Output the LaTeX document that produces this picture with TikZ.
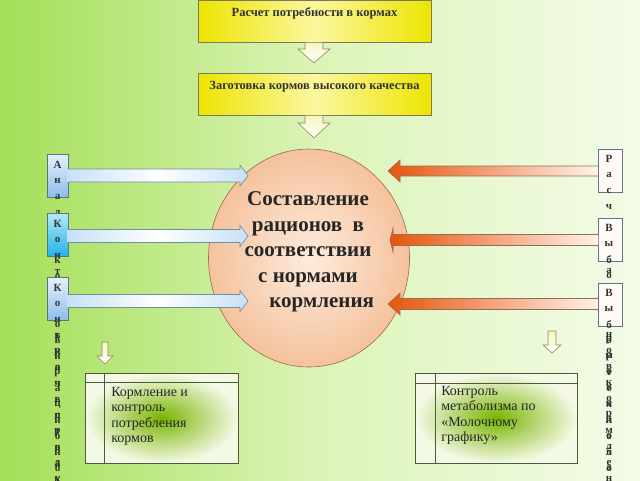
\documentclass[tikz,border=0pt]{standalone}
\usepackage{fontspec}
\setmainfont{Liberation Serif}
\usepackage{tikz}
\usetikzlibrary{calc, positioning, shapes}
\definecolor{bg left}{HTML}{A4DF58}
\definecolor{bg mid}{HTML}{DCF4B8}
\definecolor{bg right}{HTML}{F4FBE8}
\definecolor{yellow deep}{HTML}{EDE400}
\definecolor{yellow light}{HTML}{FBF7A0}
\definecolor{box edge}{HTML}{7A7A5A}
\definecolor{peach in}{HTML}{FDEBDD}
\definecolor{peach out}{HTML}{F5C29C}
\definecolor{oval edge}{HTML}{9A6A4A}
\definecolor{side light}{HTML}{E6F0FA}
\definecolor{side blue}{HTML}{8DBDEA}
\definecolor{side cyan light}{HTML}{B4E8FA}
\definecolor{side cyan}{HTML}{22B2E8}
\definecolor{side edge}{HTML}{5F7585}
\definecolor{blue pale}{HTML}{C8E1F5}
\definecolor{blue edge}{HTML}{6E8FA5}
\definecolor{orange deep}{HTML}{E4560E}
\definecolor{orange pale}{HTML}{FFF3EC}
\definecolor{orange edge}{HTML}{9C6A50}
\definecolor{hollow fill}{HTML}{F6F6C0}
\definecolor{hollow edge}{HTML}{8A8A55}
\definecolor{result green}{HTML}{78B400}
\definecolor{result pale}{HTML}{F4F9E6}
\definecolor{result edge}{HTML}{4A5A3A}
\definecolor{letter grey}{HTML}{333333}

% hollow arrow pointing down: from, tip, half shaft, half head, head length
\newcommand\vblock[5]{\path[hollow] let \p1=(#1), \p2=(#2) in
  ({\x2-#3pt},\y1) -- ({\x2-#3pt},{\y2+#5pt}) -- ({\x2-#4pt},{\y2+#5pt}) -- (\x2,\y2)
  -- ({\x2+#4pt},{\y2+#5pt}) -- ({\x2+#3pt},{\y2+#5pt}) -- ({\x2+#3pt},\y1) -- cycle;}
% block arrow sideways: from, tip, half shaft, half head, head base offset, style
\newcommand\hblock[6]{\path[#6] let \p1=(#1), \p2=(#2) in
  (\x1,{\y2+#3pt}) -- ({\x2+#5pt},{\y2+#3pt}) -- ({\x2+#5pt},{\y2+#4pt}) -- (\x2,\y2)
  -- ({\x2+#5pt},{\y2-#4pt}) -- ({\x2+#5pt},{\y2-#3pt}) -- (\x1,{\y2-#3pt});}

\begin{document}
\begin{tikzpicture}[x=1pt, y=-1pt, line width=0.6pt,
  topbox/.style={draw=box edge, left color=yellow deep, right color=yellow deep, middle color=yellow light,
    minimum width=233pt, inner sep=0pt, text height=16pt, text depth=26pt,
    font=\fontsize{12.5}{14}\selectfont\bfseries, text=letter grey},
  hollow/.style={draw=hollow edge, top color=hollow fill, bottom color=white},
  sidebox/.style={draw=side edge, minimum width=21pt, minimum height=43pt, inner sep=0pt, anchor=north},
  letter/.style={font=\fontsize{11}{13}\selectfont\bfseries, text=letter grey, inner sep=0pt},
  bluearrow/.style={draw=blue edge, left color=blue pale, right color=blue pale, middle color=white},
  orangearrow/.style={draw=orange edge, left color=orange deep, right color=orange pale},
  resultbox/.style={draw=result edge, inner color=result green, outer color=result pale,
    minimum height=90pt, inner sep=0pt, anchor=north west},
  resulttext/.style={align=left, anchor=north west, inner sep=0pt,
    font=\fontsize{14}{15.5}\selectfont, text=black!85}]

\fill[left color=bg left, right color=bg right, middle color=bg mid] (0,0) rectangle (640,480);
\useasboundingbox (0,0) rectangle (640,480);

% top chain
\node[topbox] (need) at (314.5,21) {Расчет потребности в кормах};
\node[topbox] (store) at (314.5,94) {Заготовка кормов высокого качества};
\coordinate (need tip) at (314,63);
\coordinate (store tip) at (314,138);
\vblock{need.south}{need tip}{9}{16}{14}
\vblock{store.south}{store tip}{9}{16}{15}

% centre
\node[ellipse, draw=oval edge, inner color=peach in, outer color=peach out,
  minimum width=201pt, minimum height=218pt] (diet) at (309,258) {};
\node[align=center, font=\fontsize{21}{25.5}\selectfont\bfseries, text=black!85] (diet text) at (308,252)
  {Составление\\рационов~~в\\соответствии\\с нормами\\\hspace*{1.3em}кормления};

% left column
\foreach \i/\ytop/\ct/\cb/\txt in {
  1/154/side light/side blue/{А,н,а,л,и,з,к,о,р,м,о,в,и,р,а,ц,и,о,н,о,в},
  2/213/side cyan light/side cyan/{К,о,н,т,р,о,л,ь,к,а,ч,е,с,т,в,а,к,о,р,м,о,в},
  3/277/side light/side blue/{К,о,н,т,р,о,л,ь,п,р,о,д,у,к,т,и,в,н,о,с,т,и}}{
  \node[sidebox, top color=\ct, bottom color=\cb] (l\i) at (57.5,\ytop) {};
  \foreach \ch [count=\k] in \txt
    \node[letter] (l\i-\k) at (57.5,\ytop-5+16*\k) {\ch};
}

% right column
\foreach \i/\ytop/\txt in {
  1/149/{Р,а,с,ч,е,т,р,а,ц,и,о,н,о,в,к,о,р,м,л,е,н,и,я},
  2/218/{В,ы,б,о,р,к,о,р,м,о,в,и,д,о,б,а,в,о,к},
  3/283/{В,ы,б,о,р,т,е,х,н,о,л,о,г,и,и}}{
  \node[sidebox, minimum width=24pt, fill=orange pale!40] (r\i) at (610,\ytop) {};
  \foreach \ch [count=\k] in \txt
    \node[letter] (r\i-\k) at (609,\ytop-6+16*\k) {\ch};
}

% arrows into the centre
\coordinate (in1) at (248,175.5);
\coordinate (in2) at (248,236);
\coordinate (in3) at (248,301);
\coordinate (out1) at (388,171);
\coordinate (out2) at (390,240);
\coordinate (out3) at (388,304);
\foreach \i in {1,2,3}{
  \hblock{[xshift=-0.6pt]l\i.east}{in\i}{6.5}{10.5}{-8}{bluearrow}
}
\hblock{[xshift=0.6pt]r1.west}{out1}{5}{11}{12}{orangearrow}
\hblock{[xshift=0.6pt]r2.west}{out2}{5.5}{12}{3}{orangearrow}
\hblock{[xshift=0.6pt]r3.west}{out3}{5.5}{11}{12}{orangearrow}

% results
\coordinate (feed top) at (105,342);
\coordinate (feed tip) at (105,364);
\vblock{feed top}{feed tip}{3}{8}{8}
\coordinate (milk top) at (552,331);
\coordinate (milk tip) at (552,353);
\vblock{milk top}{milk tip}{4}{9}{8}

\node[resultbox, minimum width=153pt] (feed) at (85,373) {};
\draw[result edge] ([yshift=-9pt]feed.north west) -- ([yshift=-9pt]feed.north east);
\draw[result edge] ([xshift=19pt]feed.north west) -- ([xshift=19pt]feed.south west);
\node[resulttext] (feed text) at (111,387) {Кормление и\\контроль\\потребления\\кормов};

\node[resultbox, minimum width=162pt] (milk) at (415,373) {};
\draw[result edge] ([yshift=-10pt]milk.north west) -- ([yshift=-10pt]milk.north east);
\draw[result edge] ([xshift=20pt]milk.north west) -- ([xshift=20pt]milk.south west);
\node[resulttext] (milk text) at (441,386) {Контроль\\метаболизма по\\«Молочному\\графику»};
\end{tikzpicture}
\end{document}
